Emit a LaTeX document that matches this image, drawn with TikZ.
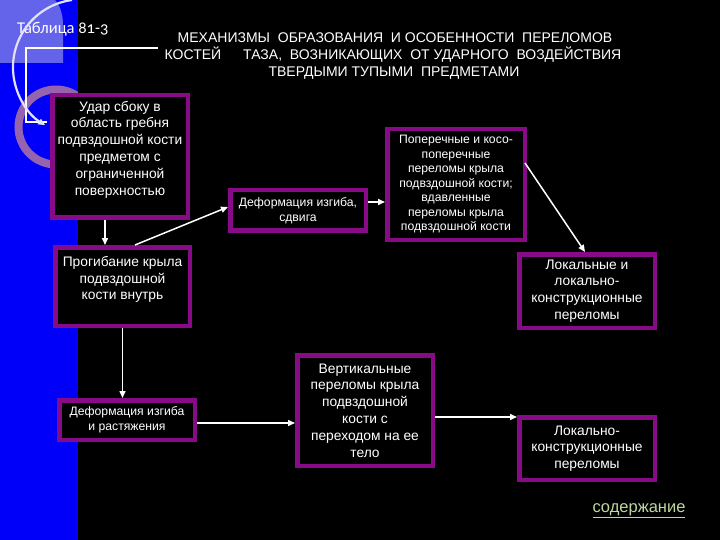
\documentclass[tikz,border=0pt]{standalone}
\usepackage{fontspec}
\setmainfont{Liberation Sans}
\newfontfamily\titlefont[Numbers=OldStyle]{Carlito}
\usetikzlibrary{arrows.meta,calc}
\definecolor{boxpurple}{RGB}{135,10,135}
\definecolor{bandblue}{RGB}{0,0,250}
\definecolor{lightsq}{RGB}{100,100,235}
\definecolor{ringcol}{RGB}{150,100,175}
\definecolor{linkgreen}{RGB}{190,215,160}
\definecolor{arccol}{RGB}{225,225,250}
\begin{document}
\begin{tikzpicture}[x=1pt,y=-1pt,
  box/.style={draw=boxpurple, line width=4.5pt, fill=black, text=white, align=center, inner sep=2pt},
  bigtext/.style={font=\fontsize{13.8}{16.8}\selectfont},
  smalltext/.style={font=\fontsize{12.2}{14.5}\selectfont},
  headtext/.style={text=white, font=\fontsize{14}{16}\selectfont, inner sep=0pt},
  arr/.style={draw=white, line width=1.5pt, -{Triangle[length=7pt,width=6pt]}},
  wline/.style={draw=white, line width=1.3pt},
  arcline/.style={draw=arccol, line width=2.2pt, -{Triangle[length=7pt,width=6pt]}}
]
\useasboundingbox (0,0) rectangle (720,540);
% background
\fill[black] (0,0) rectangle (720,540);
\fill[bandblue] (0,0) rectangle (78,540);
\fill[lightsq] (0,0) -- (55,0) .. controls (60,5) and (63,15) .. (63,25) -- (63,63) -- (0,63) -- cycle;
\begin{scope}
  \clip (0,0) rectangle (78,540);
  \draw[ringcol, line width=8pt] (56,127) circle[radius=37.5];
\end{scope}

% title
\node[text=white, font=\titlefont\fontsize{16.5}{19}\selectfont, anchor=west, inner sep=0pt] (title) at (17,29) {Таблица 81-3};

% header
\node[headtext] (h1) at (395,38) {МЕХАНИЗМЫ\ \ ОБРАЗОВАНИЯ\ \ И ОСОБЕННОСТИ\ \ ПЕРЕЛОМОВ};
\node[headtext] (h2) at (393,55) {КОСТЕЙ\hspace{22pt}ТАЗА,\ \ ВОЗНИКАЮЩИХ\ \ ОТ УДАРНОГО\ \ ВОЗДЕЙСТВИЯ};
\node[headtext] (h3) at (394,73) {ТВЕРДЫМИ ТУПЫМИ\ \ ПРЕДМЕТАМИ};

% boxes
\node[box,bigtext,minimum width=135.5pt,minimum height=122.5pt] (A) at (120,156.5)
  {Удар сбоку в\\область гребня\\подвздошной кости\\предметом с\\ограниченной\\поверхностью\\\mbox{}};
\node[box,bigtext,minimum width=134.5pt,minimum height=78.5pt] (B) at (122.5,286.5)
  {Прогибание крыла\\подвздошной\\кости внутрь\\\mbox{}};
\node[box,smalltext,minimum width=135.5pt,minimum height=40.5pt] (C) at (298,210.5)
  {Деформация изгиба,\\сдвига};
\node[box,smalltext,minimum width=137.5pt,minimum height=110.5pt] (D) at (456,184.5)
  {Поперечные и косо-\\поперечные\\переломы крыла\\подвздошной кости;\\вдавленные\\переломы крыла\\подвздошной кости};
\node[box,bigtext,minimum width=135.5pt,minimum height=73.5pt] (E) at (587,291)
  {Локальные и\\локально-\\конструкционные\\переломы};
\node[box,smalltext,minimum width=135.5pt,minimum height=39.5pt] (F) at (127,420)
  {Деформация изгиба\\и растяжения};
\node[box,bigtext,minimum width=135.5pt,minimum height=110.5pt] (G) at (365,410.5)
  {Вертикальные\\переломы крыла\\подвздошной\\кости с\\переходом на ее\\тело};
\node[box,bigtext,minimum width=135.5pt,minimum height=62.5pt] (H) at (587,448.5)
  {Локально-\\конструкционные\\переломы};

% link
\node[text=linkgreen, font=\fontsize{16.5}{18}\selectfont, inner sep=0pt] (link) at (639,511) {\underline{содержание}};

% decorative connectors
\coordinate (tl) at (158,48);
\draw[wline] (tl) -- (26,48) -- (26,122) -- ($(A.west)+(-3,-34.5)$);
\coordinate (arcstart) at (72,0);
\draw[arcline] (arcstart) arc[start angle=262.4, end angle=121.8, radius=68];

% arrows
\draw[arr] ($(A.south)+(-15,0)$) -- ($(B.north)+(-17.5,0)$);
\draw[arr] ($(B.north)+(12.5,0)$) -- ($(C.west)+(0,-3.5)$);
\draw[arr] ($(C.east)+(0,-8.5)$) -- ($(D.west)+(0,17.5)$);
\draw[arr] ($(D.east)+(-2,-21.5)$) -- ($(E.north)+(-2,0)$);
\draw[arr] (B.south) -- (B.south |- F.north);
\draw[arr] ($(F.east)+(0,3)$) -- ($(G.west)+(0,12.5)$);
\draw[arr] ($(G.east)+(0,6.5)$) -- ($(H.north west)+(0,2)$);
\end{tikzpicture}
\end{document}
